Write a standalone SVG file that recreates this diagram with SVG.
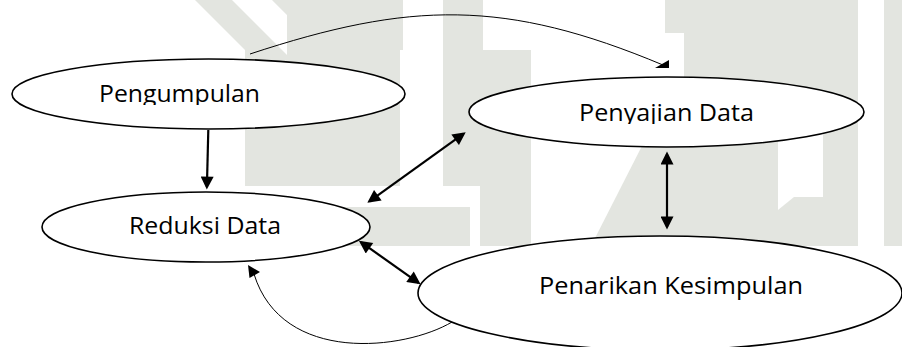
<svg xmlns="http://www.w3.org/2000/svg" width="902" height="347" viewBox="0 0 902 347">
  <style>
    .wm { fill: #e3e5e0; }
    .node ellipse { fill: #ffffff; stroke: #000000; stroke-width: 1.6; }
    .label { font-family: "Open Sans", "Noto Sans", sans-serif; font-size: 23.5px; fill: #000000; }
    .heavy { stroke: #000000; stroke-width: 2.2; fill: none; }
    .thin { stroke: #000000; stroke-width: 1; fill: none; }
    .head { fill: #000000; }
  </style>
  <defs>
    <marker id="arrow" viewBox="0 0 10 10" refX="8" refY="5" markerWidth="15" markerHeight="13" markerUnits="userSpaceOnUse" orient="auto-start-reverse">
      <path d="M0,0 L10,5 L0,10 z" class="head"/>
    </marker>
    <clipPath id="clip-top"><rect x="0" y="0" width="902" height="105"/></clipPath>
    <clipPath id="clip-mid"><rect x="0" y="0" width="902" height="124"/></clipPath>
  </defs>

  <rect x="0" y="0" width="902" height="347" fill="#ffffff"/>

  <!-- faint background emblem -->
  <g id="background">
    <polygon class="wm" points="195,0 232,0 287,55 287,186 245,186 245,50"/>
    <polygon class="wm" points="272,0 400,0 400,186 287,186 287,15"/>
    <rect class="wm" x="400" y="0" width="3" height="50"/>
    <rect class="wm" x="443" y="0" width="40" height="186"/>
    <rect class="wm" x="245" y="207" width="225" height="39"/>
    <rect class="wm" x="480" y="50" width="51" height="196"/>
    <polygon class="wm" points="591,246 684,246 684,140 645,140"/>
    <polygon class="wm" points="665,0 833,0 833,33 684,33 684,246 778,246 778,33 665,33"/>
    <rect class="wm" x="684" y="33" width="94" height="213"/>
    <rect class="wm" x="778" y="0" width="45" height="103"/>
    <polygon class="wm" points="794,197 823,197 823,246 778,246 778,210"/>
    <rect class="wm" x="823" y="0" width="35" height="246"/>
    <rect class="wm" x="884" y="0" width="18" height="246"/>
  </g>

  <!-- connectors -->
  <g id="connectors">
    <line class="heavy" x1="208.3" y1="130" x2="206.9" y2="187" marker-end="url(#arrow)"/>
    <line class="heavy" x1="369.4" y1="201.3" x2="463.6" y2="133.7" marker-start="url(#arrow)" marker-end="url(#arrow)"/>
    <line class="heavy" x1="361" y1="242.2" x2="418.5" y2="282.8" marker-start="url(#arrow)" marker-end="url(#arrow)"/>
    <line class="heavy" x1="667" y1="154" x2="667" y2="227" marker-start="url(#arrow)" marker-end="url(#arrow)"/>
    <path class="thin" d="M250,54 C410,1.2 505,-1.2 663,65"/>
    <polygon class="head" points="655,68 669,60 669,68"/>
    <path class="thin" d="M452,322 C405,350 282,365 254,274"/>
    <polygon class="head" points="248,265 249.5,278 260,272"/>
  </g>

  <!-- nodes -->
  <g id="pengumpulan" class="node">
    <ellipse cx="208.5" cy="94" rx="196.5" ry="35"/>
    <text class="label" x="99" y="101.7" textLength="161" lengthAdjust="spacingAndGlyphs" clip-path="url(#clip-top)">Pengumpulan</text>
  </g>
  <g id="penyajian-data" class="node">
    <ellipse cx="666.5" cy="112" rx="197.5" ry="35"/>
    <text class="label" x="579" y="121" textLength="175" lengthAdjust="spacingAndGlyphs" clip-path="url(#clip-mid)">Penyajian Data</text>
  </g>
  <g id="reduksi-data" class="node">
    <ellipse cx="206" cy="227" rx="164" ry="35"/>
    <text class="label" x="129" y="234.3" textLength="152" lengthAdjust="spacingAndGlyphs">Reduksi Data</text>
  </g>
  <g id="penarikan-kesimpulan" class="node">
    <ellipse cx="660" cy="293" rx="242" ry="57"/>
    <text class="label" x="539" y="294.3" textLength="264" lengthAdjust="spacingAndGlyphs">Penarikan Kesimpulan</text>
  </g>
</svg>
